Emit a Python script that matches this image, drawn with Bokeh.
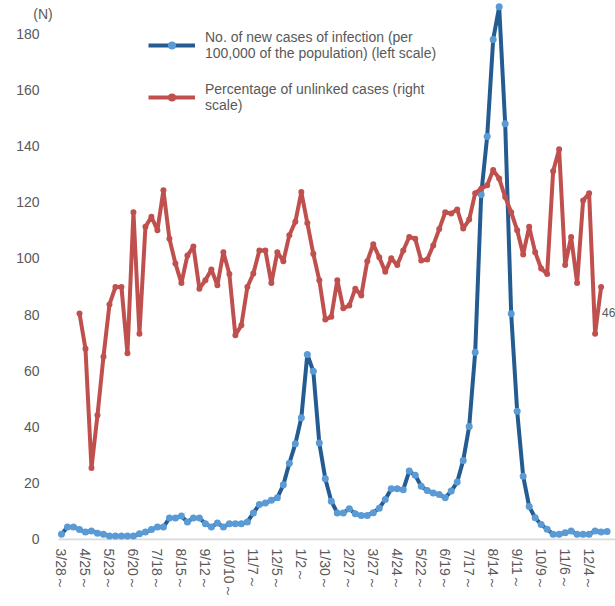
from bokeh.plotting import figure
from bokeh.models import Range1d, FixedTicker, Legend, LegendItem, Label
from bokeh.embed import file_html
from bokeh.resources import INLINE

# ---- data -------------------------------------------------------------
tick_labels = ["3/28～", "4/25～", "5/23～", "6/20～", "7/18～", "8/15～",
               "9/12～", "10/10～", "11/7～", "12/5～", "1/2～", "1/30～",
               "2/27～", "3/27～", "4/24～", "5/22～", "6/19～", "7/17～",
               "8/14～", "9/11～", "10/9～", "11/6～", "12/4～"]

# weekly new cases per 100,000 (left scale)
new_cases = [1.8, 4.4, 4.4, 3.5, 2.6, 3.0, 2.2, 1.8, 1.2, 1.2, 1.2, 1.2, 1.2,
             2.0, 2.6, 3.5, 4.4, 4.4, 7.6, 7.6, 8.3, 6.2, 7.6, 7.6, 5.6, 4.4,
             5.8, 4.4, 5.6, 5.6, 5.6, 6.2, 9.4, 12.4, 12.9, 13.9, 14.8, 19.4,
             27.1, 34.0, 43.3, 65.8, 59.8,
             34.3, 21.6, 13.6, 9.4, 9.4, 10.9, 9.1, 8.5, 8.5, 9.5, 11.1, 14.2,
             18.0, 18.0, 17.7, 24.3, 22.8, 18.9, 17.4, 16.5, 16.0, 14.8, 17.2,
             20.4, 28.1, 40.2,
             66.6, 122.7, 143.4, 177.9, 189.5, 147.9, 80.3,
             45.6, 22.5, 11.7, 7.7, 5.3, 3.6, 1.8, 1.8, 2.4, 3.0, 1.8, 1.8,
             1.8, 3.0, 2.6, 2.8]

# percentage of unlinked cases (right scale), starts at the 4th week
unlinked_start = 3
unlinked = [40.2, 33.9, 12.7, 22.1, 32.5, 41.8, 44.9, 44.9, 33.1, 58.2, 36.6,
            55.6, 57.4, 55.0, 62.1, 53.5, 49.1, 45.6, 50.5, 52.1, 44.6, 46.1,
            48.0, 45.2, 51.1, 47.2, 36.3, 38.1, 44.9, 47.3, 51.4, 51.4, 45.6,
            51.1, 49.5, 54.1, 56.5, 61.8, 56.3, 50.8, 46.1, 39.1, 39.6, 46.1,
            41.1, 41.6, 44.6, 43.4, 49.5, 52.5, 50.2, 47.6, 50.0, 48.8, 51.4,
            53.8, 53.5, 49.6, 49.8, 52.3, 55.2, 58.2, 58.0, 58.7, 55.3, 56.9,
            61.6, 62.4, 63.0, 65.7, 64.2, 60.9, 58.2, 55.0, 50.7, 55.6, 51.1,
            48.2, 47.2, 65.5, 69.4, 48.8, 53.8, 45.6, 60.3, 61.6, 36.6, 44.9]

left_ticks = [0, 20, 40, 60, 80, 100, 120, 140, 160, 180]
unit_text = "(N)"
last_label_text = "46"

legend_cases = "No. of new cases of infection (per\n100,000 of the population) (left scale)"
legend_unlinked = "Percentage of unlinked cases (right\nscale)"

# ---- figure -----------------------------------------------------------
x_cases = list(range(len(new_cases)))
x_unlinked = list(range(unlinked_start, unlinked_start + len(unlinked)))

FONT = "Liberation Sans"
GREY = "#595959"
Y_START, Y_END = -0.4, 191.75
X_START, X_END = -5.17, 92.4
AXIS_START = -0.5          # category axis begins half a week before week 0

p = figure(width=615, height=606, output_backend="svg", toolbar_location=None,
           x_range=Range1d(X_START, X_END), y_range=Range1d(Y_START, Y_END),
           min_border_left=30, min_border_right=0, min_border_top=0,
           min_border_bottom=66)
p.extra_y_ranges = {"right": Range1d(Y_START / 2, Y_END / 2)}
p.outline_line_color = None
p.xgrid.visible = False
p.ygrid.visible = False
p.background_fill_color = "white"
p.border_fill_color = "white"

# y axis (labels sit a little inside the frame's left edge)
ya = p.yaxis[0]
ya.ticker = FixedTicker(ticks=left_ticks)
ya.axis_line_color = None
ya.major_tick_line_color = None
ya.minor_tick_line_color = None
ya.major_tick_out = 0
ya.major_tick_in = 0
ya.major_label_standoff = -9
ya.major_label_text_font = FONT
ya.major_label_text_font_size = "14px"
ya.major_label_text_color = GREY

# x axis
xa = p.xaxis[0]
xa.ticker = FixedTicker(ticks=[4 * i for i in range(len(tick_labels))])
xa.major_label_overrides = {4 * i: t for i, t in enumerate(tick_labels)}
xa.major_label_orientation = "vertical"
xa.axis_line_color = None
xa.major_tick_line_color = None
xa.minor_tick_line_color = None
xa.major_tick_out = 0
xa.major_tick_in = 0
xa.major_label_standoff = 8
xa.major_label_text_font = FONT
xa.major_label_text_font_size = "14px"
xa.major_label_text_color = GREY

# baseline of the category axis
p.segment(x0=[AXIS_START], y0=[0], x1=[X_END], y1=[0],
          line_color="#D9D9D9", line_width=2)

# series
bl = p.line(x_cases, new_cases, line_color="#245C92", line_width=4,
            line_join="round")
bs = p.scatter(x_cases, new_cases, size=7, fill_color="#5B9BD5",
               line_color=None)
rl = p.line(x_unlinked, unlinked, y_range_name="right", line_color="#C0504D",
            line_width=4, line_join="round")
rs = p.scatter(x_unlinked, unlinked, y_range_name="right", size=6,
               fill_color="#C0504D", line_color=None)

legend = Legend(items=[LegendItem(label=legend_cases, renderers=[bl, bs]),
                       LegendItem(label=legend_unlinked, renderers=[rl, rs])],
                location=(118, 427), orientation="vertical",
                background_fill_alpha=0, border_line_alpha=0,
                glyph_width=47, glyph_height=20, label_standoff=10,
                spacing=20, padding=0, margin=0,
                label_text_font=FONT, label_text_font_size="14px",
                label_text_color=GREY)
p.add_layout(legend)

# unit label above the left scale
p.add_layout(Label(x=-3.085, y=187.1, text=unit_text, text_align="center",
                   text_baseline="middle", text_font=FONT,
                   text_font_size="14px", text_color=GREY))

p.add_layout(Label(x=x_unlinked[-1], y=unlinked[-1] - 4.5,
                   y_range_name="right", x_offset=1, text=last_label_text,
                   text_align="left", text_baseline="middle", text_font=FONT,
                   text_font_size="12px", text_color=GREY))

open("out.html", "w").write(file_html(p, INLINE))
